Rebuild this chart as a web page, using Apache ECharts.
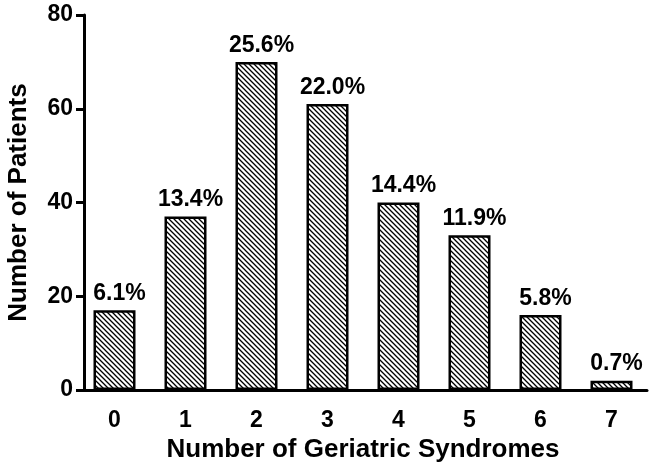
<!DOCTYPE html>
<html>
<head>
<meta charset="utf-8">
<script src="https://cdn.jsdelivr.net/npm/echarts@6/dist/echarts.min.js"></script>
<style>
  html, body { margin: 0; padding: 0; background: #fff; }
  #main { width: 654px; height: 474px; }
</style>
</head>
<body>
<div id="main"></div>
<script>
// data
var categories = ['0', '1', '2', '3', '4', '5', '6', '7'];
var patients = [17, 37, 70, 61, 40, 33, 16, 2];
var percentLabels = ['6.1%', '13.4%', '25.6%', '22.0%', '14.4%', '11.9%', '5.8%', '0.7%'];
var yTicks = [0, 20, 40, 60, 80];

// hatch tile, lines going down to the right
function hatchTile() {
  var c = document.createElement('canvas');
  c.width = 5;
  c.height = 5;
  var ctx = c.getContext('2d');
  ctx.fillStyle = '#fff';
  ctx.fillRect(0, 0, 5, 5);
  ctx.strokeStyle = '#000';
  ctx.lineWidth = 1.3;
  ctx.beginPath();
  ctx.moveTo(-1, -1); ctx.lineTo(6, 6);
  ctx.moveTo(-1, 4); ctx.lineTo(1, 6);
  ctx.moveTo(4, -1); ctx.lineTo(6, 1);
  ctx.stroke();
  return c;
}

var chart = echarts.init(document.getElementById('main'), null, { renderer: 'canvas' });
var font = 'Liberation Sans, Arial, sans-serif';

var option = {
  animation: false,
  textStyle: { fontFamily: font },
  grid: { left: 79, right: 7, top: 15, bottom: 84, outerBoundsMode: 'none' },
  xAxis: {
    type: 'category',
    data: categories,
    name: 'Number of Geriatric Syndromes',
    nameLocation: 'middle',
    nameGap: 46,
    nameTextStyle: { fontSize: 26, fontWeight: 'bold', color: '#000', fontFamily: font },
    axisLine: { lineStyle: { color: '#000', width: 3 } },
    axisTick: { alignWithLabel: true, length: 8, lineStyle: { color: '#000', width: 3 } },
    axisLabel: { fontSize: 23, fontWeight: 'bold', color: '#000', margin: 19, fontFamily: font }
  },
  yAxis: {
    type: 'value',
    offset: -5,
    min: 0,
    max: yTicks[yTicks.length - 1],
    interval: yTicks[1] - yTicks[0],
    name: 'Number of Patients',
    nameLocation: 'middle',
    nameGap: 52,
    nameTextStyle: { fontSize: 26, fontWeight: 'bold', color: '#000', fontFamily: font },
    axisLine: { show: true, lineStyle: { color: '#000', width: 3 } },
    axisTick: { show: true, length: 8, lineStyle: { color: '#000', width: 3 } },
    axisLabel: { fontSize: 23, fontWeight: 'bold', color: '#000', margin: 11, fontFamily: font },
    splitLine: { show: false }
  },
  series: [{
    type: 'bar',
    data: patients,
    barWidth: 42,
    itemStyle: {
      color: { image: hatchTile(), repeat: 'repeat' },
      borderColor: '#000',
      borderWidth: 2.5
    },
    label: {
      show: true,
      position: 'top',
      distance: 5,
      offset: [5, 0],
      fontSize: 23,
      fontWeight: 'bold',
      color: '#000',
      fontFamily: font,
      formatter: function (p) { return percentLabels[p.dataIndex]; }
    }
  }]
};

chart.setOption(option);
</script>
</body>
</html>
